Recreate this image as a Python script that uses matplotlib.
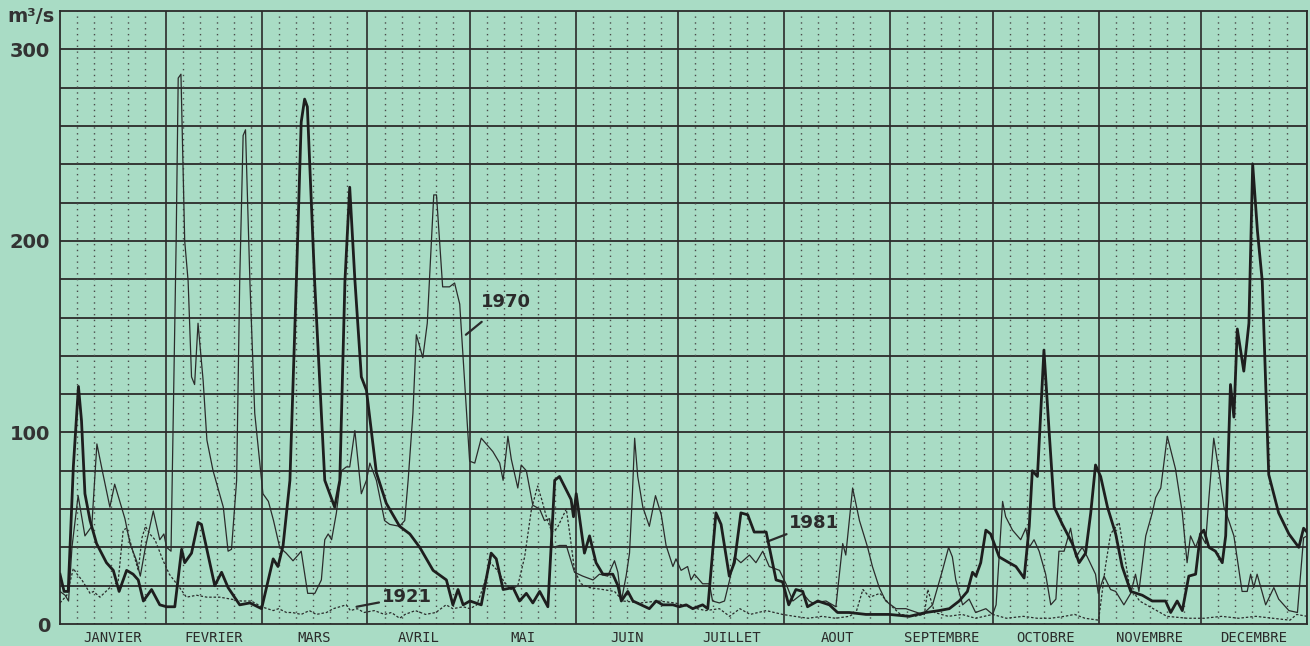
import matplotlib
matplotlib.use("Agg")
import matplotlib.pyplot as plt

# Débits journaliers (m3/s) : jour de l'année, valeur
jours_1981 = [0, 1.2, 2.4, 3.9, 5.4, 6.3, 7.3, 8.8, 10.7, 13.6, 15.6, 17.3, 19.5, 21.4, 22.9, 24.4,
              26.8, 29.2, 31.2, 33.6, 35.6, 36.5, 38.5, 40.4, 41.4, 45.3, 47.3, 49.2, 52.6, 55.6, 59,
              62.4, 63.8, 65.3, 67.3, 69.2, 70.6, 71.6, 72.4, 74.5, 77.5, 80.4, 81.9, 83.4, 84.8,
              86.3, 88.2, 89.7, 92.6, 95.5, 99.4, 102.4, 105.3, 109.2, 113.1, 115, 116.5, 118, 120,
              123.3, 126.2, 127.7, 129.7, 132.6, 134.5, 136.5, 138.4, 140.4, 142.8, 144.8, 146.2,
              149.6, 150.3, 151.1, 153.5, 155, 156.9, 158.9, 161.8, 163.3, 164.3, 166.2, 167.7,
              170.1, 172.5, 174.5, 176.4, 179.4, 181.3, 183.3, 185.2, 188.1, 189.6, 192, 193.5,
              195.9, 197.4, 199.3, 201.3, 203.2, 206.7, 209.6, 211.5, 213.3, 215.4, 217.4, 218.8,
              221.8, 225.2, 227.6, 231, 235.9, 242.7, 248.6, 253.4, 257.3, 260.3, 263.2, 265.6,
              267.1, 268.1, 269.5, 271, 272.4, 274.9, 277.8, 279.8, 282.2, 283.7, 284.6, 286.1,
              288, 289.5, 291, 293.4, 296.3, 298.3, 300.2, 301.7, 303.1, 304.6, 306.6, 309, 310.9,
              313.4, 316.8, 319.7, 323.6, 325.1, 327, 328.5, 330.4, 332.4, 333.8, 334.8, 336.3,
              338.2, 340.2, 341.2, 342.6, 343.6, 344.6, 346.5, 348, 349.1, 350.5, 351.9, 353.8,
              356.7, 359.7, 362.6, 364, 365]
debit_1981 = [26, 17, 17, 82, 124, 106, 68, 54, 42, 32, 28, 17, 28, 26, 23, 12,
              18, 10, 9, 9, 39, 32, 37, 53, 52, 20, 27, 19, 10, 11, 8,
              34, 30, 41, 75, 180, 262, 274, 270, 180, 75, 61, 75, 179, 228,
              180, 129, 122, 79, 63, 51, 47, 40, 28, 23, 10, 18, 10, 12,
              10, 37, 34, 18, 19, 12, 16, 11, 17, 9, 75, 77,
              65, 56, 68, 37, 46, 32, 26, 26, 20, 12, 17, 12,
              10, 8, 12, 10, 10, 9, 10, 8, 10, 8, 58, 52,
              25, 32, 58, 57, 48, 48, 23, 22, 10, 18, 17, 9,
              12, 10, 6, 6, 5, 5, 4, 6, 7, 8, 12, 17,
              27, 25, 32, 49, 47, 35, 32, 30, 24, 51, 80, 77,
              143, 101, 61, 52, 42, 32, 37, 58, 83, 77, 61, 47, 30,
              17, 15, 12, 12, 6, 12, 7, 25, 26, 47, 49, 40,
              38, 32, 46, 125, 108, 154, 132, 157, 240, 205, 179, 78,
              58, 47, 40, 50, 48]

jours_1970 = [0, 1.5, 2.5, 3.5, 5.3, 7.3, 9.3, 10.8, 12.5, 14.6, 16, 17.5, 19, 20.5, 22.4, 23.5,
              25, 27.3, 28.2, 29.2, 30.4, 31.2, 32.5, 34, 34.6, 35.4, 36.5, 37.5, 38.5, 39.4, 40.4,
              41.9, 43, 44.8, 47.8, 49.2, 50.2, 51.7, 52.6, 53.6, 54.3, 55.6, 57, 59.4, 61, 62.5,
              64.3, 66.2, 68.2, 69.7, 70.6, 72.5, 74.6, 76.5, 77.5, 78.5, 79.5, 80.9, 82.4, 83.8,
              84.8, 86.3, 88.2, 89.7, 90.7, 92.6, 95, 96.5, 99.4, 100.9, 101.9, 103.3, 104.3,
              106.2, 107.5, 109.4, 110.2, 112, 114, 115.5, 117, 119.4, 119.9, 121.4, 123.3, 125.7,
              126.7, 128.7, 129.7, 131.1, 132.1, 134, 135, 136.5, 138.4, 140.4, 141.8, 143.3,
              144.3, 146.2, 148.2, 150.6, 153, 156, 157.9, 160.3, 162.3, 163.3, 164.3, 165.7,
              166.7, 167.5, 168.2, 169.1, 170.6, 172.5, 174.3, 176, 177.4, 179.4, 180.3, 181.8,
              183.7, 184.7, 185.7, 188.1, 190.1, 191, 193, 194.5, 196, 197.4, 199.3, 201.8, 203.7,
              205.7, 207.6, 210.6, 212.5, 214.5, 217.4, 219.3, 220.3, 224.2, 227.1, 229.1, 230,
              232, 234, 236.4, 237.8, 239.8, 241.7, 244.7, 247.6, 252.5, 255.4, 258.3, 260.1,
              261.2, 262.2, 264.2, 266.1, 268, 271, 273, 274, 275.9, 276.8, 278.8, 281.2, 282.7,
              283.7, 285.1, 286.6, 288.5, 290, 291.5, 292.4, 293.9, 295.8, 297.3, 299.2, 300.7,
              303.1, 303.9, 305.6, 307.5, 309, 311.4, 313.4, 314.8, 315.8, 317.8, 319.7, 320.7,
              322.2, 324.1, 326.5, 328.5, 329.9, 330.9, 332.4, 333.8, 335.3, 336.3, 337.7, 339.2,
              340.7, 342.1, 343.6, 346, 347.5, 348.5, 349.4, 350.4, 352.9, 355.3, 356.7, 359.7,
              362.2, 364, 365]
debit_1970 = [17, 15, 12, 40, 67, 46, 51, 94, 79, 61, 73, 64, 55, 42, 33, 25,
              40, 59, 52, 44, 47, 40, 38, 200, 285, 287, 200, 179, 129, 125, 157,
              127, 96, 80, 61, 38, 39, 75, 179, 255, 258, 178, 110, 68, 64, 54,
              40, 37, 33, 36, 38, 16, 16, 23, 44, 47, 44, 58, 80, 82,
              82, 101, 68, 75, 84, 75, 54, 52, 51, 54, 75, 110, 151,
              139, 157, 224, 224, 176, 176, 178, 167, 99, 85, 84, 97, 92,
              90, 84, 75, 98, 86, 71, 83, 80, 62, 60, 54, 55,
              40, 41, 41, 27, 25, 23, 26, 25, 33, 27, 12, 25,
              37, 66, 97, 77, 61, 51, 67, 57, 41, 30, 34, 28,
              30, 23, 26, 21, 21, 12, 11, 12, 23, 35, 32, 36, 32,
              38, 30, 28, 21, 12, 16, 12, 11, 12, 9, 42, 36,
              71, 54, 40, 30, 19, 12, 8, 8, 5, 10, 28, 40,
              35, 23, 10, 13, 6, 8, 5, 10, 64, 56, 49, 44, 50,
              40, 44, 38, 26, 10, 13, 38, 38, 50, 35, 40, 35,
              26, 16, 25, 18, 17, 10, 16, 26, 17, 46, 58, 66,
              71, 98, 81, 58, 32, 46, 40, 47, 42, 66, 97, 80,
              61, 54, 46, 17, 17, 26, 19, 26, 10, 19, 13, 7,
              6, 45, 46]

jours_1921 = [0, 2, 3.9, 5, 6.4, 8.8, 9.8, 11.7, 14.6, 17, 18.5, 19.5, 21, 22.9, 24, 25, 26.3,
              27.8, 30.2, 32, 35, 37, 40, 43, 46.8, 50, 53, 56, 59, 62.4, 64, 66.3, 68, 70.6, 73,
              75, 78, 80, 83.8, 85, 87, 89, 92, 95, 97, 99.4, 101, 104, 107, 110, 113, 115, 118,
              120, 122, 124, 126, 128, 130, 132, 134, 136, 138, 139.8, 141, 142.5, 144, 145.5,
              148.2, 149.3, 150.6, 152.5, 155, 158.9, 162.3, 164.8, 170, 175, 180, 184, 189, 193,
              196, 199, 202, 206.7, 211.5, 215, 219, 223, 227, 231, 233, 235, 237, 240, 243, 246,
              250, 253, 254, 256, 260, 264, 268, 273, 277, 282, 286, 290, 294, 297, 300, 304, 306,
              307.5, 310, 311.5, 313, 316, 319, 324, 330, 335, 340, 345, 350, 355, 360, 362, 365]
debit_1921 = [11, 15, 29, 26, 23, 16, 17, 14, 19, 22, 49, 50, 40, 28, 45, 51, 47,
              44, 33, 26, 19, 14, 15, 14, 14, 13, 12, 12, 9, 7, 8, 6, 6, 5, 7,
              5, 6, 8, 10, 7, 8, 6, 7, 5, 6, 3, 5, 7, 5, 6, 10, 8, 9,
              8, 10, 20, 32, 28, 22, 18, 20, 35, 60, 72, 65, 55, 48, 50,
              60, 46, 28, 21, 19, 18, 17, 12, 11, 12, 11, 9, 7, 8,
              4, 8, 5, 7, 5, 4, 3, 4, 3, 4, 6, 18, 14, 16, 10, 5,
              4, 5, 18, 6, 4, 5, 3, 5, 3, 4, 3, 3, 4, 5, 3, 2, 30,
              47, 53, 37, 20, 12, 9, 4, 3, 3, 4, 3, 4, 3, 2, 5, 4]

mois = ['JANVIER', 'FEVRIER', 'MARS', 'AVRIL', 'MAI', 'JUIN', 'JUILLET',
        'AOUT', 'SEPTEMBRE', 'OCTOBRE', 'NOVEMBRE', 'DECEMBRE']
longueurs_mois = [31, 28, 31, 30, 31, 30, 31, 31, 30, 31, 30, 31]

fond = '#a9dcc5'
encre = '#2b2b2b'

fig = plt.figure(figsize=(13.1, 6.46), dpi=100, facecolor=fond)
ax = fig.add_axes([60 / 1310, 22 / 646, 1247 / 1310, 613 / 646])
ax.set_facecolor(fond)
ax.set_xlim(0, 365)
ax.set_ylim(0, 320)

# quadrillage : horizontales tous les 20 m3/s, mois en trait plein, pointillés tous les 5 jours
for v in range(20, 320, 20):
    ax.axhline(v, color=encre, lw=1.3, zorder=1)
debut = 0
centres = []
for n in longueurs_mois:
    for d in range(5, n - 2, 5):
        ax.axvline(debut + d, color='#4a4a4a', lw=1.0, linestyle=(0, (1, 3.2)), zorder=1)
    centres.append(debut + n / 2)
    debut += n
    ax.axvline(debut, color=encre, lw=1.2, zorder=1)
for s in ax.spines.values():
    s.set_color(encre)
    s.set_linewidth(1.3)

ax.plot(jours_1921, debit_1921, color=encre, lw=0.9, linestyle=(0, (2, 1.5)), zorder=3)
ax.plot(jours_1970, debit_1970, color=encre, lw=0.9, zorder=4)
ax.plot(jours_1981, debit_1981, color='#1e1e1e', lw=2.0, zorder=5)

ax.set_yticks([0, 100, 200, 300])
ax.set_yticklabels(['0', '100', '200', '300'], fontsize=14, fontweight='bold', color='#333333')
ax.set_xticks(centres)
ax.set_xticklabels(mois, fontsize=10, color=encre, family='DejaVu Sans Mono')
ax.tick_params(axis='both', length=0)
ax.tick_params(axis='y', pad=7)
ax.tick_params(axis='x', pad=5)

fig.text(31 / 1310, 1 - 17 / 646, 'm³/s', ha='center', va='center',
         fontsize=14, fontweight='bold', color='#333333')

# étiquettes des années avec leur trait de rappel
ax.annotate('1970', xy=(118.8, 151), xytext=(130.5, 168), textcoords='data',
            fontsize=13, fontweight='bold', color=encre, ha='center', va='center',
            arrowprops=dict(arrowstyle='-', color=encre, lw=1.6, shrinkA=9, shrinkB=0))
ax.annotate('1981', xy=(207.0, 43), xytext=(220.8, 52.5), textcoords='data',
            fontsize=13, fontweight='bold', color=encre, ha='center', va='center',
            arrowprops=dict(arrowstyle='-', color=encre, lw=1.6, shrinkA=17, shrinkB=0))
ax.annotate('1921', xy=(86.8, 9), xytext=(101.5, 14), textcoords='data',
            fontsize=13, fontweight='bold', color=encre, ha='center', va='center',
            arrowprops=dict(arrowstyle='-', color=encre, lw=1.6, shrinkA=17, shrinkB=0))

fig.savefig('out.png', dpi=100, facecolor=fond)
